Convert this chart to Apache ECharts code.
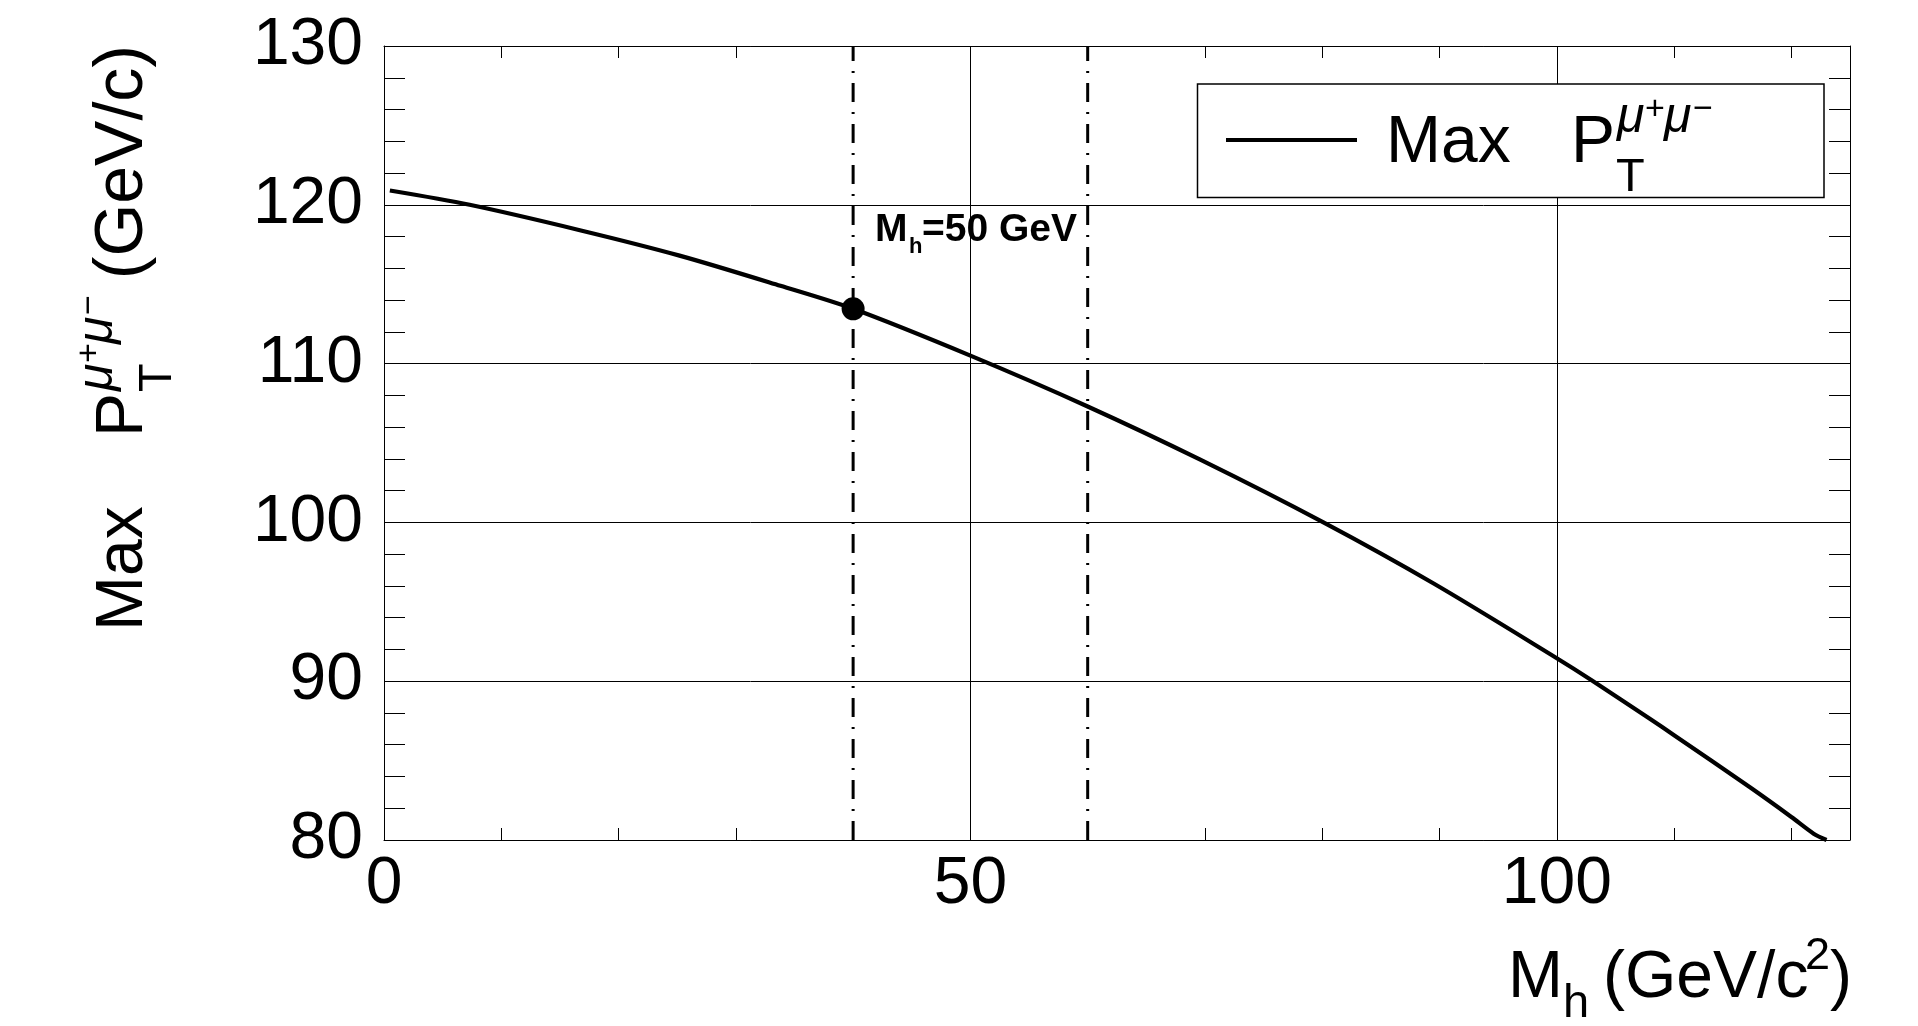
<!DOCTYPE html>
<html>
<head>
<meta charset="utf-8">
<script src="https://cdn.jsdelivr.net/npm/echarts@6/dist/echarts.min.js"></script>
<style>
html,body{margin:0;padding:0;background:#fff;}
#c{width:1918px;height:1026px;}
</style>
</head>
<body>
<div id="c"></div>
<script>
// ---- data ----
const massX = [0.5, 7.3, 16.7, 25.2, 33.8, 40, 50, 60, 69.6, 80.1, 89.5, 100, 103, 107.9, 110, 116.5, 120, 121.9, 123];
const maxPt = [120.9, 120.0, 118.4, 116.8, 114.9, 113.45, 110.5, 107.3, 103.95, 100.0, 96.15, 91.45, 90.05, 87.65, 86.6, 83.3, 81.45, 80.4, 80.0];
const markedPoint = [40, 113.45];
const bandEdges = [40, 60];
const xRange = [0, 125];
const yRange = [80, 130];
const xLabelStep = 50;
const yLabelStep = 10;

const FONT = '"Liberation Sans", Arial, Helvetica, sans-serif';
const MID = 0.3465; // middle-baseline offset (em) for verticalAlign middle

function txt(text, x, base, fs, opts) {
  opts = opts || {};
  return {
    type: 'text', x: x, y: base - MID * fs, z: 101,
    style: {
      text: text, fontSize: fs, fontFamily: FONT,
      fontWeight: opts.weight || 'normal', fontStyle: opts.italic ? 'italic' : 'normal',
      fill: '#000', align: opts.align || 'left', verticalAlign: 'middle'
    }
  };
}

// P_T^{mu+mu-} pieces relative to baseline, starting at px
function ptPieces(px, fs) {
  const pAdv = 0.667 * fs;
  const sx = px + pAdv + 2;
  const fsMu = 50, fsPm = 34;
  return [
    txt('P', px, 0, fs),
    txt('T', px + pAdv + 1, 27, 47),
    txt('\u03bc', sx, -32, fsMu, {italic: true}),
    txt('+', sx + 28, -46, fsPm),
    txt('\u03bc', sx + 47, -32, fsMu, {italic: true}),
    txt('\u2212', sx + 76, -46, fsPm)
  ];
}

const chart = echarts.init(document.getElementById('c'), null, {renderer: 'canvas'});

const black = '#000';
const axisLabelStyle = {fontSize: 66, fontFamily: FONT, color: black};

const option = {
  animation: false,
  backgroundColor: '#fff',
  grid: {left: 384, top: 46, width: 1466, height: 794, containLabel: false},
  xAxis: [
    { // bottom: labels + minor ticks
      type: 'value', position: 'bottom', min: xRange[0], max: xRange[1], interval: 10,
      axisLine: {show: true, onZero: false, lineStyle: {color: black, width: 1}},
      axisTick: {show: true, inside: true, length: 12, lineStyle: {color: black, width: 1}},
      axisLabel: {show: true, margin: 12, ...axisLabelStyle,
        formatter: v => (v % xLabelStep === 0 ? String(v) : '')},
      splitLine: {show: false}
    },
    { // top ticks
      type: 'value', position: 'top', min: xRange[0], max: xRange[1], interval: 10,
      axisLine: {show: true, onZero: false, lineStyle: {color: black, width: 1}},
      axisTick: {show: true, inside: true, length: 12, lineStyle: {color: black, width: 1}},
      axisLabel: {show: false}, splitLine: {show: false}
    },
    { // grid lines only
      type: 'value', min: xRange[0], max: xRange[1], interval: xLabelStep,
      axisLine: {show: false}, axisTick: {show: false}, axisLabel: {show: false},
      splitLine: {show: true, lineStyle: {color: black, width: 1}}
    }
  ],
  yAxis: [
    {
      type: 'value', position: 'left', min: yRange[0], max: yRange[1], interval: yLabelStep,
      axisLine: {show: true, onZero: false, lineStyle: {color: black, width: 1}},
      axisTick: {show: true, inside: true, length: 42, lineStyle: {color: black, width: 1}},
      minorTick: {show: true, splitNumber: 5, length: 21, lineStyle: {color: black, width: 1}},
      axisLabel: {show: true, margin: 21, ...axisLabelStyle},
      splitLine: {show: true, lineStyle: {color: black, width: 1}}
    },
    {
      type: 'value', position: 'right', min: yRange[0], max: yRange[1], interval: yLabelStep,
      axisLine: {show: true, onZero: false, lineStyle: {color: black, width: 1}},
      axisTick: {show: true, inside: true, length: 42, lineStyle: {color: black, width: 1}},
      minorTick: {show: true, splitNumber: 5, length: 21, lineStyle: {color: black, width: 1}},
      axisLabel: {show: false}, splitLine: {show: false}
    }
  ],
  series: [
    ...bandEdges.map(bx => ({
      type: 'line', xAxisIndex: 0, yAxisIndex: 0, symbol: 'none', silent: true, z: 3,
      data: [[bx, yRange[0]], [bx, yRange[1]]],
      lineStyle: {color: black, width: 3, type: [19, 10, 2, 10]}
    })),
    {
      type: 'line', xAxisIndex: 0, yAxisIndex: 0, symbol: 'none', smooth: 0.3, z: 4,
      data: massX.map((x, i) => [x, maxPt[i]]),
      lineStyle: {color: black, width: 4.2}
    },
    {
      type: 'scatter', xAxisIndex: 0, yAxisIndex: 0, z: 5,
      data: [markedPoint], symbol: 'circle', symbolSize: 23,
      itemStyle: {color: black, opacity: 1}
    }
  ],
  graphic: [
    // Y axis title (rotated)
    {
      type: 'group', x: 147, y: 627, rotation: Math.PI / 2, z: 101,
      children: [
        txt('Max', -4, 0, 66),
        ...ptPieces(190, 66),
        txt('(GeV/c)', 582, 0, 68, {align: 'right'})
      ]
    },
    // X axis title
    {
      type: 'group', x: 0, y: 1002, z: 101,
      children: [
        txt('M', 1508, 0, 66),
        txt('h', 1563, 18, 47),
        txt('(GeV/c', 1603, 0, 66),
        txt('2', 1805, -30, 45),
        txt(')', 1830, 0, 66)
      ]
    },
    // Legend
    {
      type: 'rect', z: 100,
      shape: {x: 1197.5, y: 84, width: 626.5, height: 113.5},
      style: {fill: '#fff', stroke: black, lineWidth: 1.5}
    },
    {
      type: 'line', z: 101,
      shape: {x1: 1226, y1: 140, x2: 1357, y2: 140},
      style: {stroke: black, lineWidth: 4}
    },
    {
      type: 'group', x: 1386, y: 167, z: 101,
      children: [
        txt('Max', 0, 0, 66),
        ...ptPieces(185, 66)
      ]
    },
    // annotation
    {
      type: 'group', x: 0, y: 244, z: 101,
      children: [
        txt('M', 875, 0, 39, {weight: 'bold'}),
        txt('h', 909, 11, 22, {weight: 'bold'}),
        txt('=50 GeV', 922, 0, 39, {weight: 'bold'})
      ]
    }
  ]
};
chart.setOption(option);
</script>
</body>
</html>
